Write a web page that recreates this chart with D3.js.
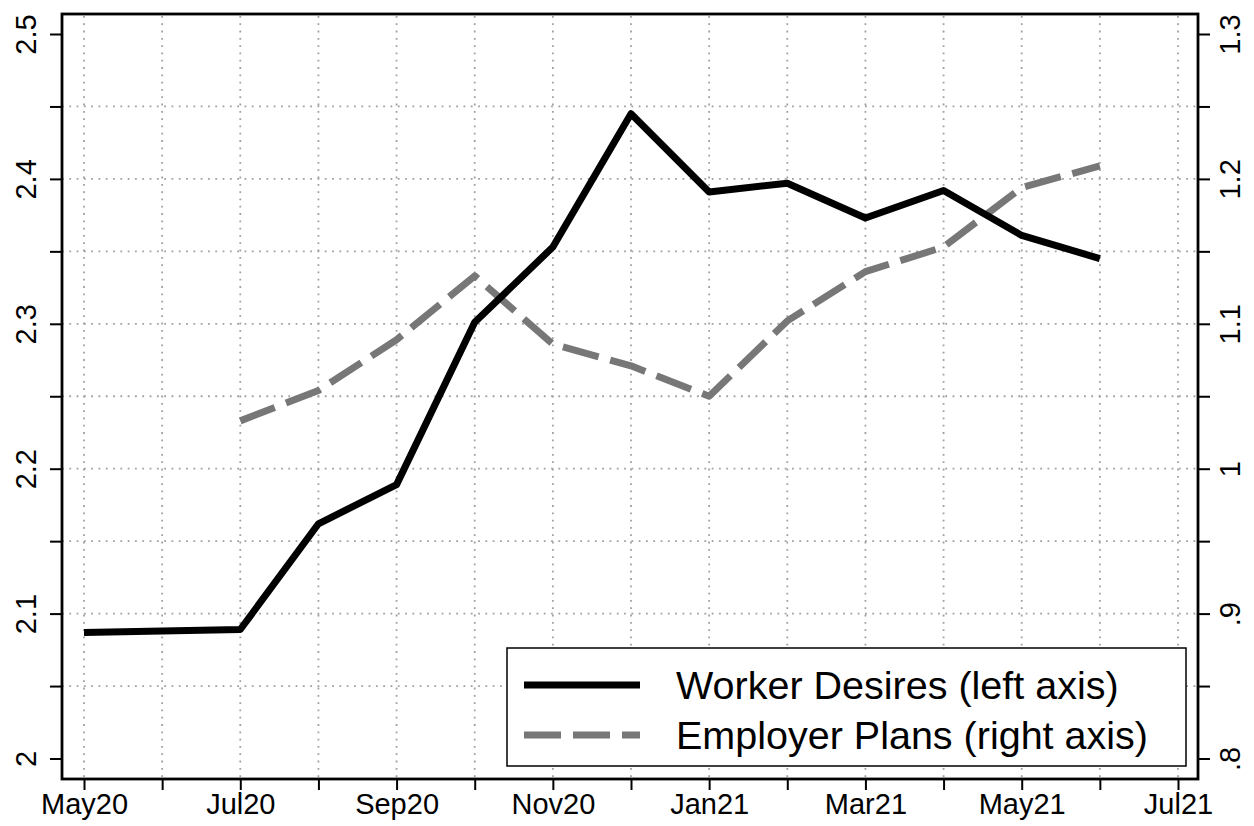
<!DOCTYPE html>
<html><head><meta charset="utf-8">
<script src="https://cdn.jsdelivr.net/npm/d3@7"></script>
<style>body{margin:0;background:#fff}svg{display:block}text{font-family:"Liberation Sans",Arial,sans-serif;fill:#000}</style>
</head><body><svg id="c" width="1254" height="826"></svg>
<script>
const months = ["May20","Jun20","Jul20","Aug20","Sep20","Oct20","Nov20","Dec20","Jan21","Feb21","Mar21","Apr21","May21","Jun21","Jul21"];
const xTickLabels = ["May20","Jul20","Sep20","Nov20","Jan21","Mar21","May21","Jul21"];
const workerDesires = [2.087, null, 2.089, 2.162, 2.189, 2.301, 2.353, 2.445, 2.391, 2.397, 2.373, 2.392, 2.361, 2.345];
const employerPlans = [null, null, 1.033, 1.054, 1.089, 1.133, 1.086, 1.071, 1.050, 1.102, 1.136, 1.153, 1.194, 1.209];
const leftTicks = [2, 2.1, 2.2, 2.3, 2.4, 2.5];
const leftTickLabels = ["2","2.1","2.2","2.3","2.4","2.5"];
const rightTicks = [0.8, 0.9, 1.0, 1.1, 1.2, 1.3];
const rightTickLabels = [".8",".9","1","1.1","1.2","1.3"];
const gridY = [2.05,2.1,2.15,2.2,2.25,2.3,2.35,2.4,2.45];
const minorLeft = [2.05,2.15,2.25,2.35,2.45];
const minorRight = [0.85,0.95,1.05,1.15,1.25];
const legendLabels = ["Worker Desires (left axis)","Employer Plans (right axis)"];

const svg = d3.select("#c");
const F = {l:62, r:1198, t:14, b:779};
const x = d3.scaleLinear().domain([0, months.length-1]).range([84, 1178]);
const yL = d3.scaleLinear().domain([2, 2.5]).range([758.5, 34]);
const yR = d3.scaleLinear().domain([0.8, 1.3]).range([758.5, 34]);

// grid
const g = svg.append("g").attr("stroke","#a0a0a0").attr("stroke-width",1.8).attr("stroke-dasharray","1.8,5.5");
months.forEach((m,i)=>g.append("line").attr("x1",x(i)).attr("x2",x(i)).attr("y1",F.t+2).attr("y2",F.b));
gridY.forEach(v=>g.append("line").attr("x1",F.l).attr("x2",F.r).attr("y1",yL(v)).attr("y2",yL(v)));

// lines
const wd = workerDesires.map((v,i)=>({i,v})).filter(d=>d.v!==null);
const ep = employerPlans.map((v,i)=>({i,v})).filter(d=>d.v!==null);
svg.append("path").datum(ep).attr("fill","none").attr("stroke","#777").attr("stroke-width",7)
  .attr("stroke-dasharray","37,12").attr("stroke-linejoin","round")
  .attr("d", d3.line().x(d=>x(d.i)).y(d=>yR(d.v)));
svg.append("path").datum(wd).attr("fill","none").attr("stroke","#000").attr("stroke-width",7)
  .attr("stroke-linejoin","round")
  .attr("d", d3.line().x(d=>x(d.i)).y(d=>yL(d.v)));

// frame
svg.append("rect").attr("x",F.l).attr("y",F.t).attr("width",F.r-F.l).attr("height",F.b-F.t)
  .attr("fill","none").attr("stroke","#000").attr("stroke-width",2.8);

// axes
const axB = d3.axisBottom(x).tickValues(d3.range(months.length)).tickSize(11).tickFormat(i=>xTickLabels.includes(months[i])?months[i]:"");
const gb = svg.append("g").attr("transform",`translate(0,${F.b})`).call(axB);
gb.select(".domain").remove();
gb.selectAll("line").attr("stroke","#000").attr("stroke-width",2);
gb.selectAll("text").attr("font-size",29).attr("dy","0.62em").attr("y",17);

const axL = d3.axisLeft(yL).tickValues(leftTicks.concat(minorLeft)).tickSize(12).tickFormat(v=>{const k=leftTicks.findIndex(t=>Math.abs(t-v)<1e-9);return k>=0?leftTickLabels[k]:"";});
const gl = svg.append("g").attr("transform",`translate(${F.l},0)`).call(axL);
gl.select(".domain").remove();
gl.selectAll("line").attr("stroke","#000").attr("stroke-width",2);
gl.selectAll("text").attr("font-size",29).attr("text-anchor","middle")
  .attr("x",null).attr("dy",null)
  .attr("transform","translate(-36,0) rotate(-90)").attr("y",0).attr("dy","0.36em");

const axR = d3.axisRight(yR).tickValues(rightTicks.concat(minorRight)).tickSize(12).tickFormat(v=>{const k=rightTicks.findIndex(t=>Math.abs(t-v)<1e-9);return k>=0?rightTickLabels[k]:"";});
const gr = svg.append("g").attr("transform",`translate(${F.r},0)`).call(axR);
gr.select(".domain").remove();
gr.selectAll("line").attr("stroke","#000").attr("stroke-width",2);
gr.selectAll("text").attr("font-size",29).attr("text-anchor","middle")
  .attr("x",null).attr("dy",null)
  .attr("transform","translate(32,0) rotate(-90)").attr("y",0).attr("dy","0.36em");

// legend
const lg = svg.append("g");
lg.append("rect").attr("x",507).attr("y",648).attr("width",679).attr("height",118)
  .attr("fill","#fff").attr("stroke","#000").attr("stroke-width",1.5);
const styles = [{c:"#000",d:null},{c:"#777",d:"37,12"}];
legendLabels.forEach((t,k)=>{
  const yy = 685 + k*50;
  lg.append("line").attr("x1",524).attr("x2",640).attr("y1",yy).attr("y2",yy)
    .attr("stroke",styles[k].c).attr("stroke-width",7).attr("stroke-dasharray",styles[k].d);
  lg.append("text").attr("x",676).attr("y",yy).attr("dy","0.36em").attr("font-size",39.5).text(t);
});
</script></body></html>
